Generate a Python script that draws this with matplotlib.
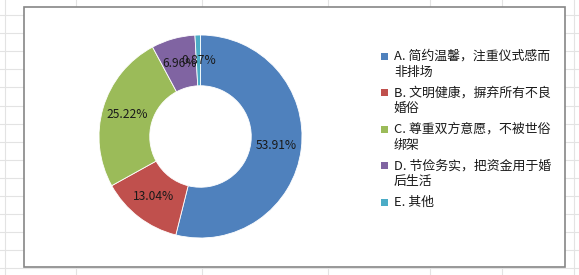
import matplotlib.pyplot as plt
from matplotlib.patches import Rectangle

plt.rcParams['font.family'] = ['Noto Sans CJK SC', 'DejaVu Sans']

# 数据
labels = ['A. 简约温馨，注重仪式感而\n非排场',
          'B. 文明健康，摒弃所有不良\n婚俗',
          'C. 尊重双方意愿，不被世俗\n绑架',
          'D. 节俭务实，把资金用于婚\n后生活',
          'E. 其他']
values = [53.91, 13.04, 25.22, 6.96, 0.87]
colors = ['#4F81BD', '#C0504D', '#9BBB59', '#8064A2', '#4BACC6']

W, H = 579, 275
fig = plt.figure(figsize=(W / 100, H / 100), dpi=100)

# 背景（表格网格线 + 图表边框），坐标用像素
bg = fig.add_axes([0, 0, 1, 1], zorder=0)
bg.set_xlim(0, W)
bg.set_ylim(H, 0)
bg.axis('off')
for k in range(16):
    y = 15 + 18.1 * k
    bg.plot([0, W], [y, y], color='#e3e3e3', lw=0.8)
for x in [5, 76, 202, 328, 430, 502, 574]:
    bg.plot([x, x], [0, H], color='#e3e3e3', lw=0.8)
bg.add_patch(Rectangle((24, 7), 541, 260, facecolor='white',
                       edgecolor='#868686', lw=1.2, zorder=3))

# 环形图
r = 101.5
cx, cy = 200.5, 136.5
ax = fig.add_axes([(cx - r) / W, (H - cy - r) / H, 2 * r / W, 2 * r / H], zorder=1)
wedges, texts, autotexts = ax.pie(values, colors=colors, startangle=90, counterclock=False,
                                  autopct='%.2f%%', pctdistance=0.75,
                                  wedgeprops=dict(width=0.5, edgecolor='white', linewidth=0.6),
                                  textprops=dict(fontsize=8.7, color='#1a1a1a'))
ax.set_xlim(-1, 1)
ax.set_ylim(-1, 1)
ax.set_aspect('equal')

# 图例
for i, (lab, col) in enumerate(zip(labels, colors)):
    y0 = 56 + 36.6 * i
    bg.add_patch(Rectangle((381, y0 - 3.5), 7, 7, facecolor=col, edgecolor='none', zorder=4))
    for j, line in enumerate(lab.split('\n')):
        bg.text(394, y0 + 16 * j, line, fontsize=9.3, va='center', ha='left',
                color='#1a1a1a', zorder=4)

fig.savefig('out.png', dpi=100)
